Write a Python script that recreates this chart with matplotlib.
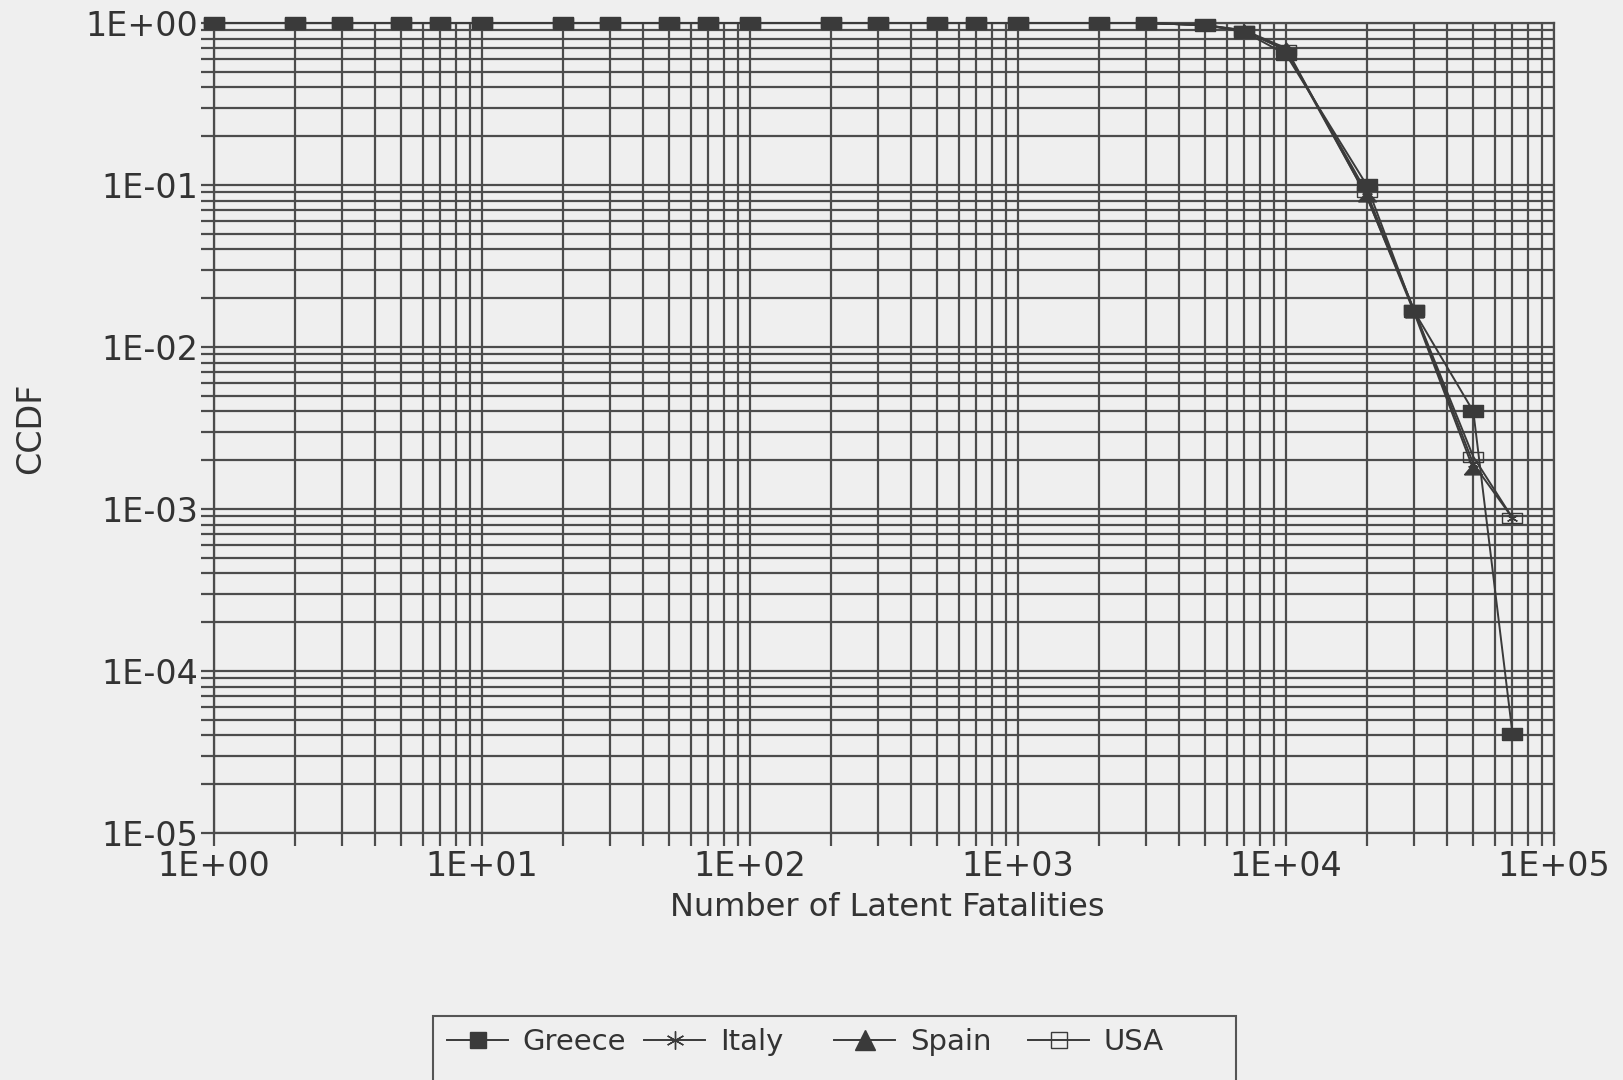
import numpy as np
import matplotlib
matplotlib.use("Agg")
import matplotlib.pyplot as plt
from matplotlib.ticker import FixedLocator, LogLocator, FuncFormatter, NullFormatter
from matplotlib.lines import Line2D
from matplotlib.patches import Rectangle

# Number of latent fatalities (x) and CCDF values per country
fatalities = [1, 2, 3, 5, 7, 10, 20, 30, 50, 70, 100, 200, 300, 500, 700,
              1000, 2000, 3000, 5000, 7000, 10000, 20000, 30000, 50000, 70000]
greece = [1, 1, 1, 1, 1, 1, 1, 1, 1, 1, 1, 1, 1, 1, 1,
          1, 1, 1, 0.97, 0.88, 0.64, 0.10, 0.0167, 0.0040, 4.1e-5]
italy = [1, 1, 1, 1, 1, 1, 1, 1, 1, 1, 1, 1, 1, 1, 1,
         1, 1, 1, 0.97, 0.90, 0.68, 0.085, 0.0170, 0.0019, 8.8e-4]
spain = [1, 1, 1, 1, 1, 1, 1, 1, 1, 1, 1, 1, 1, 1, 1,
         1, 1, 1, 0.97, 0.90, 0.70, 0.085, 0.0165, 0.00176]
usa = [1, 1, 1, 1, 1, 1, 1, 1, 1, 1, 1, 1, 1, 1, 1,
       1, 1, 1, 0.97, 0.89, 0.68, 0.090, 0.0170, 0.0021, 8.8e-4]

series_names = ["Greece", "Italy", "Spain", "USA"]
x_major = [1e0, 1e1, 1e2, 1e3, 1e4, 1e5]
y_major = [1e-5, 1e-4, 1e-3, 1e-2, 1e-1, 1e0]

plt.rcParams["font.family"] = ["DejaVu Sans"]

bg = "#efefef"
ink = "#3a3a3a"
grid_c = "#4c4c4c"
text_c = "#333333"

W, H = 1624, 1080
fig = plt.figure(figsize=(W / 100, H / 100), dpi=100, facecolor=bg)
ax = fig.add_axes([214 / W, 1 - 833 / H, 1340 / W, 810 / H])
ax.set_facecolor(bg)
ax.set_xscale("log")
ax.set_yscale("log")
ax.set_xlim(1, 1e5)
ax.set_ylim(1e-5, 1)

# flattened marker shapes used on the curves
flat_rect = [(-1, -0.55), (1, -0.55), (1, 0.55), (-1, 0.55), (-1, -0.55)]
flat_tri = [(-1, -0.6), (1, -0.6), (0, 0.6), (-1, -0.6)]

styles = {
    "Greece": dict(marker=flat_rect, ms=15, mfc=ink, mec=ink, zorder=6),
    "Italy": dict(marker=(6, 2, 0), ms=8, mfc=ink, mec=ink, mew=1.0, zorder=5),
    "Spain": dict(marker=flat_tri, ms=13, mfc=ink, mec=ink, zorder=4),
    "USA": dict(marker=flat_rect, ms=14, mfc="none", mec=ink, mew=1.0, zorder=3),
}
legend_styles = {
    "Greece": dict(marker="s", ms=12, mfc=ink, mec=ink),
    "Italy": dict(marker=(6, 2, 0), ms=13, mfc=ink, mec=ink, mew=1.0),
    "Spain": dict(marker="^", ms=14, mfc=ink, mec=ink),
    "USA": dict(marker="s", ms=11, mfc="none", mec=ink, mew=1.0),
}
data = {"Greece": greece, "Italy": italy, "Spain": spain, "USA": usa}

handles = []
for name in series_names:
    ys = data[name]
    ax.plot(fatalities[:len(ys)], ys, color=ink, lw=1.4, clip_on=False,
            **styles[name])
    handles.append(Line2D([], [], color=ink, lw=1.4, **legend_styles[name]))

# grid on every decade subdivision
ax.xaxis.set_major_locator(FixedLocator(x_major))
ax.yaxis.set_major_locator(FixedLocator(y_major))
ax.xaxis.set_minor_locator(LogLocator(base=10, subs=np.arange(2, 10), numticks=20))
ax.yaxis.set_minor_locator(LogLocator(base=10, subs=np.arange(2, 10), numticks=20))
fmt = FuncFormatter(lambda v, p: "1E{:+03d}".format(int(round(np.log10(v)))))
ax.xaxis.set_major_formatter(fmt)
ax.yaxis.set_major_formatter(fmt)
ax.xaxis.set_minor_formatter(NullFormatter())
ax.yaxis.set_minor_formatter(NullFormatter())

ax.grid(which="both", color=grid_c, lw=1.6)
ax.set_axisbelow(True)
for s in ax.spines.values():
    s.set_color(grid_c)
    s.set_linewidth(1.6)

ax.tick_params(which="both", direction="out", length=9.5, width=1.6,
               color=grid_c, labelcolor=text_c, labelsize=24)
ax.tick_params(axis="y", which="major", pad=2)
ax.tick_params(axis="x", which="major", pad=3)

fig.text(887 / W, 1 - 907 / H, "Number of Latent Fatalities",
         ha="center", va="center", fontsize=23, color=text_c)
fig.text(31 / W, 1 - 428 / H, "CCDF", rotation=90,
         ha="center", va="center", fontsize=24, color=text_c)

# legend box, running off the bottom edge of the figure
fig.patches.append(Rectangle((433 / W, -0.01), (1236 - 433) / W,
                             0.01 + (H - 1016) / H,
                             transform=fig.transFigure, facecolor="none",
                             edgecolor="#555555", lw=1.5, zorder=10))
# one legend entry per country, evenly placed across the box
entry_x = [447, 644, 834, 1028]
for h, name, ex in zip(handles, series_names, entry_x):
    leg = fig.legend([h], [name], loc="center left",
                     bbox_to_anchor=(ex / W, 1 - 1042 / H),
                     fontsize=21, frameon=False,
                     handlelength=2.1, handletextpad=0.5,
                     borderpad=0.0, borderaxespad=0)
    for t in leg.get_texts():
        t.set_color(text_c)

fig.savefig("out.png", dpi=100, facecolor=bg)
